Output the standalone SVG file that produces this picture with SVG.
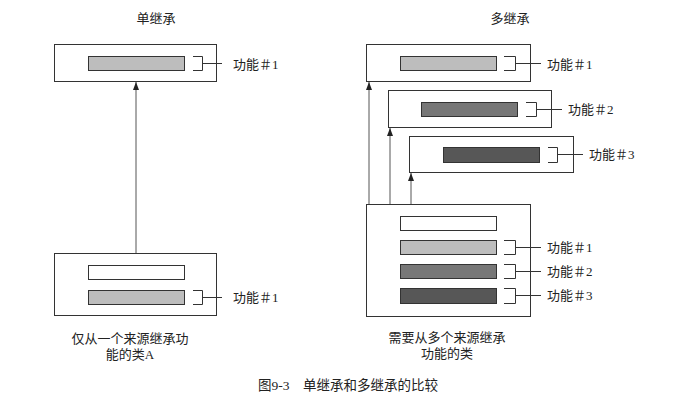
<svg xmlns="http://www.w3.org/2000/svg" width="685" height="405" viewBox="0 0 685 405">
<defs>
<style>
.box{fill:#fff;stroke:#333;stroke-width:1}
.bar{stroke:#333;stroke-width:1}
.w{fill:#fff}.c1{fill:#bdbdbd}.c2{fill:#777}.c3{fill:#575757}
.br{fill:none;stroke:#333;stroke-width:1}
.t{font-family:"Liberation Serif","Noto Sans CJK SC",serif;font-size:13px;fill:#222}
.h{font-family:"Noto Sans CJK SC",sans-serif;font-size:13px;fill:#222;text-anchor:middle}
.cap{text-anchor:middle}
.conn{stroke:#555;stroke-width:1;fill:none}
</style>
<marker id="ah" viewBox="0 0 8 6" refX="8" refY="3" markerWidth="8" markerHeight="6" markerUnits="userSpaceOnUse" orient="auto">
<path d="M0,0 L8,3 L0,6 Z" fill="#222"/>
</marker>
</defs>
<rect width="685" height="405" fill="#fff"/>
<text class="h" x="156" y="23">单继承</text>
<text class="h" x="510" y="23">多继承</text>

<g id="connectors">
<line class="conn" x1="136" y1="253" x2="136" y2="82" marker-end="url(#ah)"/>
<line class="conn" x1="369" y1="204" x2="369" y2="82" marker-end="url(#ah)"/>
<line class="conn" x1="390" y1="204" x2="390" y2="128" marker-end="url(#ah)"/>
<line class="conn" x1="411" y1="204" x2="411" y2="173" marker-end="url(#ah)"/>
</g>

<g id="single-parent">
<rect class="box" x="54.5" y="44.5" width="162" height="37"/>
<rect class="bar c1" x="88.5" y="56.5" width="96" height="14"/>
<path class="br" d="M193,56.5 H202.5 V70.5 H193 M202.5,63.5 H222"/>
<text class="t" x="233" y="69">功能＃1</text>
</g>

<g id="single-child">
<rect class="box" x="54.5" y="253.5" width="162" height="62"/>
<rect class="bar w" x="88.5" y="265.5" width="96" height="14"/>
<rect class="bar c1" x="88.5" y="290.5" width="96" height="14"/>
<path class="br" d="M193,290.5 H202.5 V304.5 H193 M202.5,297.5 H222"/>
<text class="t" x="233" y="302">功能＃1</text>
<text class="t cap" x="130" y="343">仅从一个来源继承功</text>
<text class="t cap" x="130" y="359">能的类A</text>
</g>

<g id="multi-parent-1">
<rect class="box" x="366.5" y="44.5" width="164" height="37"/>
<rect class="bar c1" x="400.5" y="56.5" width="96" height="14"/>
<path class="br" d="M504,56.5 H515.5 V70.5 H504 M515.5,63.5 H541"/>
<text class="t" x="547" y="69">功能＃1</text>
</g>

<g id="multi-parent-2">
<rect class="box" x="388.5" y="90.5" width="163" height="37"/>
<rect class="bar c2" x="421.5" y="102.5" width="96" height="14"/>
<path class="br" d="M526,102.5 H536.5 V116.5 H526 M536.5,109.5 H562"/>
<text class="t" x="568" y="114">功能＃2</text>
</g>

<g id="multi-parent-3">
<rect class="box" x="409.5" y="136.5" width="164" height="36"/>
<rect class="bar c3" x="443.5" y="147.5" width="96" height="15"/>
<path class="br" d="M548,147.5 H557.5 V162.5 H548 M557.5,154.5 H583"/>
<text class="t" x="589" y="159">功能＃3</text>
</g>

<g id="multi-child">
<rect class="box" x="366.5" y="204.5" width="164" height="112"/>
<rect class="bar w" x="400.5" y="216.5" width="96" height="14"/>
<rect class="bar c1" x="400.5" y="240.5" width="96" height="14"/>
<rect class="bar c2" x="400.5" y="264.5" width="96" height="14"/>
<rect class="bar c3" x="400.5" y="288.5" width="96" height="15"/>
<path class="br" d="M504,240.5 H515.5 V254.5 H504 M515.5,247.5 H541"/>
<path class="br" d="M504,264.5 H515.5 V278.5 H504 M515.5,271.5 H541"/>
<path class="br" d="M504,288.5 H515.5 V303.5 H504 M515.5,295.5 H541"/>
<text class="t" x="547" y="252">功能＃1</text>
<text class="t" x="547" y="276">功能＃2</text>
<text class="t" x="547" y="300">功能＃3</text>
<text class="t cap" x="447" y="342">需要从多个来源继承</text>
<text class="t cap" x="447" y="358">功能的类</text>
</g>

<text class="t cap" x="348" y="390" style="font-size:13.5px">图9-3　单继承和多继承的比较</text>
</svg>
